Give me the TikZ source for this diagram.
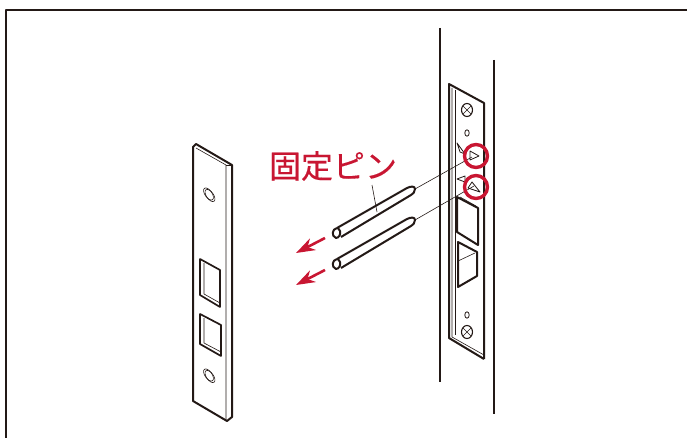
\documentclass[tikz,border=0pt]{standalone}
\usepackage{fontspec}
\usetikzlibrary{arrows.meta}
\newfontfamily\cjk[FakeBold=0.35]{Noto Sans CJK JP}
\definecolor{pinred}{RGB}{200,22,50}
\definecolor{inkline}{RGB}{35,25,22}
\begin{document}
\begin{tikzpicture}[
x=1pt,y=-1pt,
heavy/.style={draw=inkline, line width=2pt, line join=round},
medium/.style={draw=inkline, line width=1.1pt, line join=round},
fine/.style={draw=inkline, line width=0.6pt, line join=round},
redring/.style={circle, draw=pinred, line width=3.4pt, minimum size=23pt, inner sep=0pt},
redarrow/.style={draw=pinred, line width=2.6pt, -{Stealth[length=19pt,width=13pt,inset=6pt]}},
]
    \useasboundingbox (0,0) rectangle (687,438);
    % frame
    \draw[heavy] (6,438) -- (6,10.5) -- (687,10.5);

    % left plate
    \draw[heavy] (193,147) -- (196,144) -- (232,165) -- (232,417) -- (227,421) -- (193,401) -- cycle;
    \draw[fine] (196,148) -- (226,165) -- (226,420);
    \draw[fine] (226,165) -- (232,165);
    \draw[fine] (208.5,194) circle[x radius=3.5pt,y radius=7pt,rotate=35];
    \draw[fine] (210,195.5) circle[x radius=3.5pt,y radius=7pt,rotate=35];
    \draw[fine] (208.5,375) circle[x radius=3.5pt,y radius=7pt,rotate=35];
    \draw[fine] (210,376.5) circle[x radius=3.5pt,y radius=7pt,rotate=35];
    \draw[heavy,line width=1.7pt] (200,259) -- (220,270) -- (220,307) -- (200,295) -- cycle;
    \draw[fine] (204,263) -- (204,294) -- (220,303);
    \draw[heavy,line width=1.7pt] (200,314) -- (221,325) -- (221,356) -- (200,344) -- cycle;
    \draw[fine] (204,318) -- (204,343) -- (221,352);

    % door edge lines
    \draw[heavy] (440,28) -- (440,382);
    \draw[heavy] (494,60) -- (494,414);

    % right plate
    \draw[heavy] (484,359) -- (484,103) -- (449,84) -- (449,338) -- (484,359);
    \draw[fine] (452,88) -- (452,337) -- (484,355);
    \draw[fine] (455,90) -- (455,335);
    \foreach \sx/\sy in {467/110,467/332}{
        \draw[medium] (\sx,\sy) circle[x radius=5.5pt,y radius=6.5pt];
        \draw[fine] (\sx-4,\sy-4) -- (\sx+4,\sy+4);
        \draw[fine] (\sx+4,\sy-4) -- (\sx-4,\sy+4);
    }
    \foreach \sy in {133,315}
        \draw[medium,line width=0.8pt] (467,\sy) circle[x radius=2.2pt,y radius=3.2pt];
    \draw[medium,line width=0.8pt] (457,143) -- (465,154) -- (460,152) -- cycle;
    \draw[medium,line width=0.8pt] (457,179) -- (465,176) -- (465,182) -- cycle;
    \draw[medium,line width=0.8pt] (470,151) -- (479,156) -- (470,160) -- cycle;
    \draw[medium,line width=0.8pt] (472,182) -- (480,192) -- (468,188) -- cycle;
    \draw[heavy] (457,197) -- (478,208) -- (478,245) -- (457,232) -- cycle;
    \draw[fine] (460,197) -- (476,206);
    \draw[heavy] (458,242) -- (477,252) -- (477,276) -- (458,287) -- cycle;
    \draw[fine] (458,261) -- (475,253);

    % pins
    \coordinate (tipa) at (415,189);
    \coordinate (tipb) at (415,220);
    \coordinate (seata) at (472,157);
    \coordinate (seatb) at (474,186);
    \draw[heavy] (337,228) -- (407,188) .. controls (411,186) and (415,186) .. (tipa) .. controls (415,192) and (413,194) .. (411,195) -- (341,237);
    \draw[heavy] (337,228) .. controls (332,229) and (331,236) .. (336,238) .. controls (339,238) and (341,234) .. (340,231) .. controls (339,229) and (338,228) .. (337,228);
    \draw[heavy] (337,259) -- (407,219) .. controls (411,217) and (415,217) .. (tipb) .. controls (415,223) and (413,225) .. (411,226) -- (341,268);
    \draw[heavy] (337,259) .. controls (332,260) and (331,267) .. (336,269) .. controls (339,269) and (341,265) .. (340,262) .. controls (339,260) and (338,259) .. (337,259);
    \draw[fine] (tipa) -- (seata);
    \draw[fine] (tipb) -- (seatb);

    % label
    \node[text=pinred, inner sep=0pt, font=\cjk\fontsize{32}{32}\selectfont] (lblpin) at (333,166){固定ピン};
    \coordinate (pinmid) at (377,212);
    \draw[fine] (372,185) -- (pinmid);

    % rings
    \node[redring] (ringa) at (476,156){};
    \node[redring] (ringb) at (476,187){};

    % arrows
    \coordinate (arra) at (325,238);
    \coordinate (arrb) at (325,270);
    \coordinate (enda) at (296,253);
    \coordinate (endb) at (296,285);
    \draw[redarrow] (arra) -- (enda);
    \draw[redarrow] (arrb) -- (endb);
\end{tikzpicture}
\end{document}
